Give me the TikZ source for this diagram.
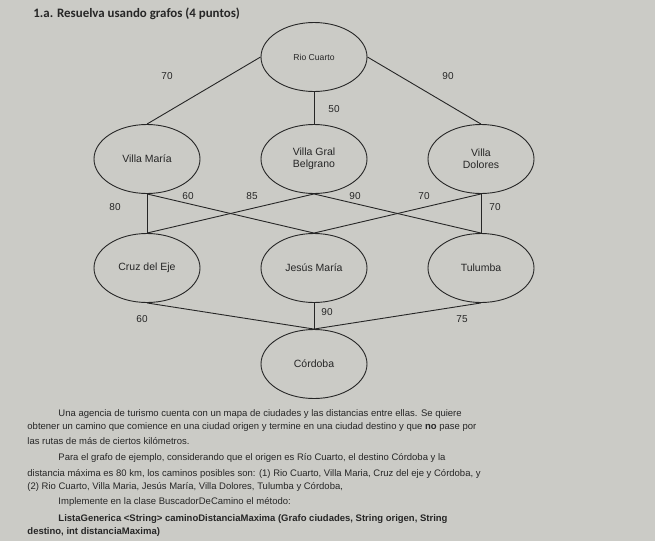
\documentclass[tikz,border=0pt]{standalone}
\usepackage{fontspec}
\setmainfont{Liberation Sans}
\newfontfamily\titlefont{Carlito}
\usetikzlibrary{shapes.geometric}
\definecolor{paper}{RGB}{203,203,198}
\definecolor{ink}{RGB}{38,38,38}

\begin{document}
\begin{tikzpicture}[x=1pt, y=-1pt, ink, line width=0.9pt,
    city/.style={ellipse, draw=ink, minimum width=106pt, minimum height=69pt,
      inner sep=0pt, align=center, font=\fontsize{10.5}{12}\selectfont},
    dist/.style={inner sep=0pt, font=\fontsize{10}{12}\selectfont},
    para/.style={anchor=base west, inner sep=0pt, font=\fontsize{9.5}{11}\selectfont}]
  \fill[paper] (0,0) rectangle (655,541);

  \node[anchor=base west, inner sep=0pt,
    font=\titlefont\bfseries\fontsize{12.9}{14}\selectfont] (title) at (33,17)
    {1.a. Resuelva usando grafos (4 puntos)};

  % ciudades
  \node[city, font=\fontsize{8.6}{10}\selectfont] (rc) at (314,57) {Rio Cuarto};
  \node[city] (vm)  at (147,159) {Villa María};
  \node[city] (vgb) at (314,159) {Villa Gral\\Belgrano};
  \node[city] (vd)  at (481,159) {Villa\\Dolores};
  \node[city] (cde) at (147,268) {Cruz del Eje};
  \node[city] (jm)  at (314,268) {Jesús María};
  \node[city] (tu)  at (481,268) {Tulumba};
  \node[city] (co)  at (314,364) {Córdoba};

  % rutas
  \draw (rc.west) -- (vm.north);
  \draw (rc.south) -- (vgb.north);
  \draw (rc.east) -- (vd.north);
  \foreach \a/\b in {vm/cde, vm/jm, vgb/cde, vgb/tu, vd/jm, vd/tu} {
    \draw (\a.south) -- (\b.north);
  }
  \foreach \a in {cde, jm, tu} {
    \draw (\a.south) -- (co.north);
  }

  % distancias
  \foreach \t/\x/\y [count=\i] in {70/167/76, 90/448/76, 50/334/109,
      60/188/196, 85/252/196, 90/355/196, 70/424/196, 80/115/207, 70/495/207,
      60/142/319, 90/327/312, 75/462/319} {
    \node[dist] (d\i) at (\x,\y) {\t};
  }

  % enunciado
  \node[para] (p1) at (58,416) {Una agencia de turismo cuenta con un mapa de ciudades y las distancias entre ellas. Se quiere};
  \node[para] (p2) at (27,429) {obtener un camino que comience en una ciudad origen y termine en una ciudad destino y que \textbf{no} pase por};
  \node[para] (p3) at (27,444) {las rutas de más de ciertos kilómetros.};
  \node[para] (p4) at (58,460) {Para el grafo de ejemplo, considerando que el origen es Río Cuarto, el destino Córdoba y la};
  \node[para] (p5) at (27,476) {distancia máxima es 80 km, los caminos posibles son: (1) Rio Cuarto, Villa Maria, Cruz del eje y Córdoba, y};
  \node[para] (p6) at (27,489) {(2) Rio Cuarto, Villa Maria, Jesús María, Villa Dolores, Tulumba y Córdoba,};
  \node[para] (p7) at (58,504) {Implemente en la clase BuscadorDeCamino el método:};
  \node[para, font=\bfseries\fontsize{9.5}{11}\selectfont] (p8) at (58,521) {ListaGenerica <String> caminoDistanciaMaxima (Grafo ciudades, String origen, String};
  \node[para, font=\bfseries\fontsize{9.5}{11}\selectfont] (p9) at (27,534) {destino, int distanciaMaxima)};
\end{tikzpicture}
\end{document}
